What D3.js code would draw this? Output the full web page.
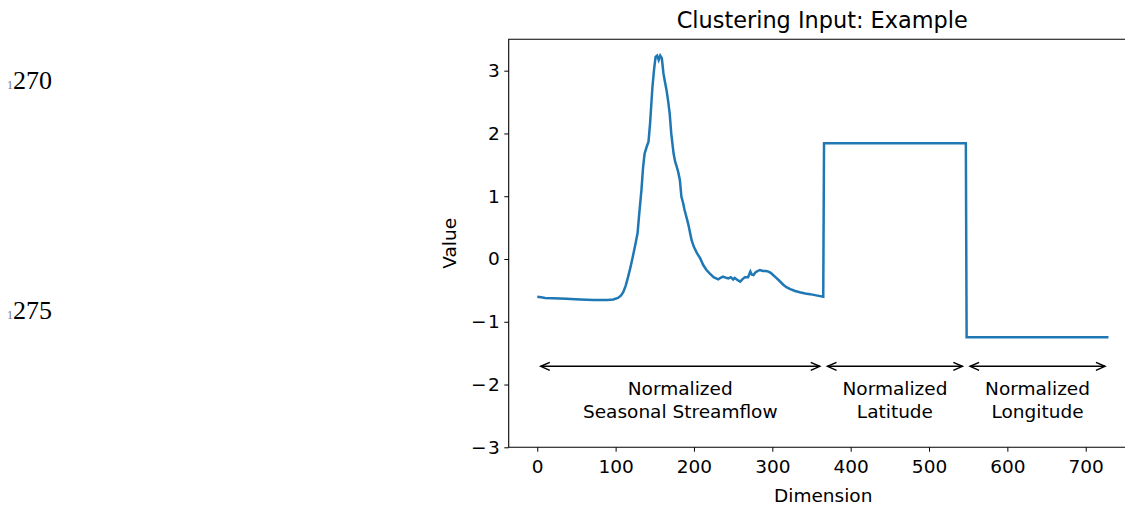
<!DOCTYPE html>
<html>
<head>
<meta charset="utf-8">
<script src="https://cdn.jsdelivr.net/npm/d3@7"></script>
<style>
  body { margin: 0; background: #fff; }
  svg { display: block; }
  text { font-family: "DejaVu Sans", sans-serif; fill: #000; }
</style>
</head>
<body>
<div id="vizArea"></div>
<script>
// streamflow curve (dimension, value)
const streamDims = [0, 5, 10, 20, 37, 55, 72, 90, 97, 103, 107, 110, 113, 116, 119, 122, 125, 128, 130, 133,
  135, 137, 140, 142, 144, 147, 149, 151, 153, 155, 157, 159, 161, 163, 165, 167, 169, 171, 174, 176,
  178, 180, 182, 184, 186, 188, 191, 193, 195, 197, 200, 204, 208, 212, 216, 220, 225, 231, 234, 237,
  241, 244, 247, 250, 252, 255, 259, 262, 265, 269, 272, 274, 276, 278, 280, 284, 288, 292, 295, 298,
  301, 304, 308, 314, 318, 323, 329, 335, 342, 348, 356, 365]
const streamVals = [-0.60, -0.61, -0.62, -0.625, -0.632, -0.645, -0.653, -0.652, -0.645, -0.62, -0.58, -0.52, -0.42, -0.28, -0.13, 0.04, 0.22, 0.41, 0.70, 1.10,
  1.45, 1.68, 1.80, 1.87, 2.16, 2.74, 3.01, 3.22, 3.24, 3.17, 3.24, 3.20, 2.96, 2.82, 2.69, 2.52, 2.32, 2.00, 1.68, 1.55,
  1.47, 1.38, 1.26, 0.99, 0.90, 0.78, 0.64, 0.54, 0.42, 0.30, 0.19, 0.09, 0.01, -0.10, -0.175, -0.23, -0.29, -0.325, -0.30, -0.28,
  -0.30, -0.31, -0.29, -0.325, -0.30, -0.33, -0.36, -0.32, -0.29, -0.29, -0.20, -0.25, -0.255, -0.22, -0.20, -0.175, -0.19, -0.19, -0.20, -0.22,
  -0.255, -0.29, -0.335, -0.41, -0.45, -0.48, -0.51, -0.53, -0.55, -0.56, -0.58, -0.60]

// latitude / longitude blocks: start dim, end dim, value
const latDims = [366, 547]
const latVal = 1.843
const lonDims = [548, 729]
const lonVal = -1.247

const xTicks = [0, 100, 200, 300, 400, 500, 600, 700]
const yTicks = [-3, -2, -1, 0, 1, 2, 3]

const regionNames = [["Normalized", "Seasonal Streamflow"], ["Normalized", "Latitude"], ["Normalized", "Longitude"]]
const regionStart = [0, 366, 548]
const regionEnd = [365, 547, 729]
const arrowVal = -1.71

const sideNumbers = ["1270", "1275"]

// points for the line
const points = streamDims.map((d, i) => ({dim: d, val: streamVals[i]}))
latDims.forEach(d => points.push({dim: d, val: latVal}))
lonDims.forEach(d => points.push({dim: d, val: lonVal}))

const W = 1125, H = 507
const svg = d3.select('#vizArea').append('svg')
    .attr('width', W).attr('height', H)

const x = d3.scaleLinear().domain([-36.45, 765.45]).range([508.7, 1137])
const y = d3.scaleLinear().domain([-3, 3.5]).range([447.3, 39.3])

// side line numbers (serif, from the page behind)
const sideY = [89.3, 319.3]
sideNumbers.forEach((s, i) => {
    const t = svg.append('text')
        .attr('x', 7).attr('y', sideY[i])
        .style('font-family', '"Liberation Serif", "Times New Roman", serif')
        .style('font-size', '26px')
    t.append('tspan').text(s[0]).style('font-size', '12px').style('fill', '#777')
    t.append('tspan').attr('dx', 0).text(s.slice(1))
})

// line
svg.append('path')
    .datum(points)
    .attr('fill', 'none')
    .attr('stroke', '#1f77b4')
    .attr('stroke-width', 2.5)
    .attr('stroke-linejoin', 'miter')
    .attr('d', d3.line().x(d => x(d.dim)).y(d => y(d.val)))

// axes
const xAxis = svg.append('g')
    .attr('transform', 'translate(0,447.3)')
    .call(d3.axisBottom(x).tickValues(xTicks).tickFormat(d3.format('d')).tickSize(4.4).tickPadding(8.5))
const yAxis = svg.append('g')
    .attr('transform', 'translate(508.7,0)')
    .call(d3.axisLeft(y).tickValues(yTicks).tickFormat(d => Math.abs(d)).tickSize(4.4).tickPadding(4.4))

;[xAxis, yAxis].forEach(a => {
    a.select('.domain').remove()
    a.selectAll('line').attr('stroke', '#000').attr('stroke-width', 1)
    a.selectAll('text').style('font-size', '18.5px').style('font-family', '"DejaVu Sans", sans-serif')
})

// matplotlib-style wide minus sign on negative y labels
yAxis.selectAll('.tick text').each(function(d) {
    if (d < 0) {
        const t = d3.select(this)
        const num = t.text()
        t.text('')
        t.append('tspan').text('\u2212')
        t.append('tspan').attr('dx', 1.5).text(num)
    }
})

// spines
svg.append('line').attr('x1', 508.7).attr('x2', 508.7).attr('y1', 39.3).attr('y2', 447.3)
    .attr('stroke', '#000').attr('stroke-width', 1.1)
svg.append('line').attr('x1', 508.2).attr('x2', 1137).attr('y1', 447.3).attr('y2', 447.3)
    .attr('stroke', '#000').attr('stroke-width', 1.1)
svg.append('line').attr('x1', 508.2).attr('x2', 1137).attr('y1', 39.3).attr('y2', 39.3)
    .attr('stroke', '#000').attr('stroke-width', 1.1)

// labels
svg.append('text')
    .attr('x', x(365) - 1).attr('y', 28)
    .attr('text-anchor', 'middle')
    .style('font-size', '22.4px')
    .text('Clustering Input: Example')

svg.append('text')
    .attr('x', x(365)).attr('y', 502)
    .attr('text-anchor', 'middle')
    .style('font-size', '18.5px')
    .text('Dimension')

svg.append('text')
    .attr('transform', 'translate(456,' + y(0.25) + ') rotate(-90)')
    .attr('text-anchor', 'middle')
    .style('font-size', '18.5px')
    .text('Value')

// double arrows + region names
const arrowY = y(arrowVal)
const shrink = 3.5, headL = 9, headW = 4
regionNames.forEach((names, i) => {
    const x1 = x(regionStart[i]) + shrink
    const x2 = x(regionEnd[i]) - shrink
    const g = svg.append('g').attr('stroke', '#000').attr('stroke-width', 1.5).attr('fill', 'none')
    g.append('line').attr('x1', x1).attr('x2', x2).attr('y1', arrowY).attr('y2', arrowY)
    g.append('path').attr('d', `M${x1 + headL},${arrowY - headW}L${x1},${arrowY}L${x1 + headL},${arrowY + headW}`)
    g.append('path').attr('d', `M${x2 - headL},${arrowY - headW}L${x2},${arrowY}L${x2 - headL},${arrowY + headW}`)

    const cx = x((regionStart[i] + regionEnd[i]) / 2)
    names.forEach((n, j) => {
        svg.append('text')
            .attr('x', cx).attr('y', 395 + j * 22.5)
            .attr('text-anchor', 'middle')
            .style('font-size', '18.5px')
            .text(n)
    })
})
</script>
</body>
</html>
